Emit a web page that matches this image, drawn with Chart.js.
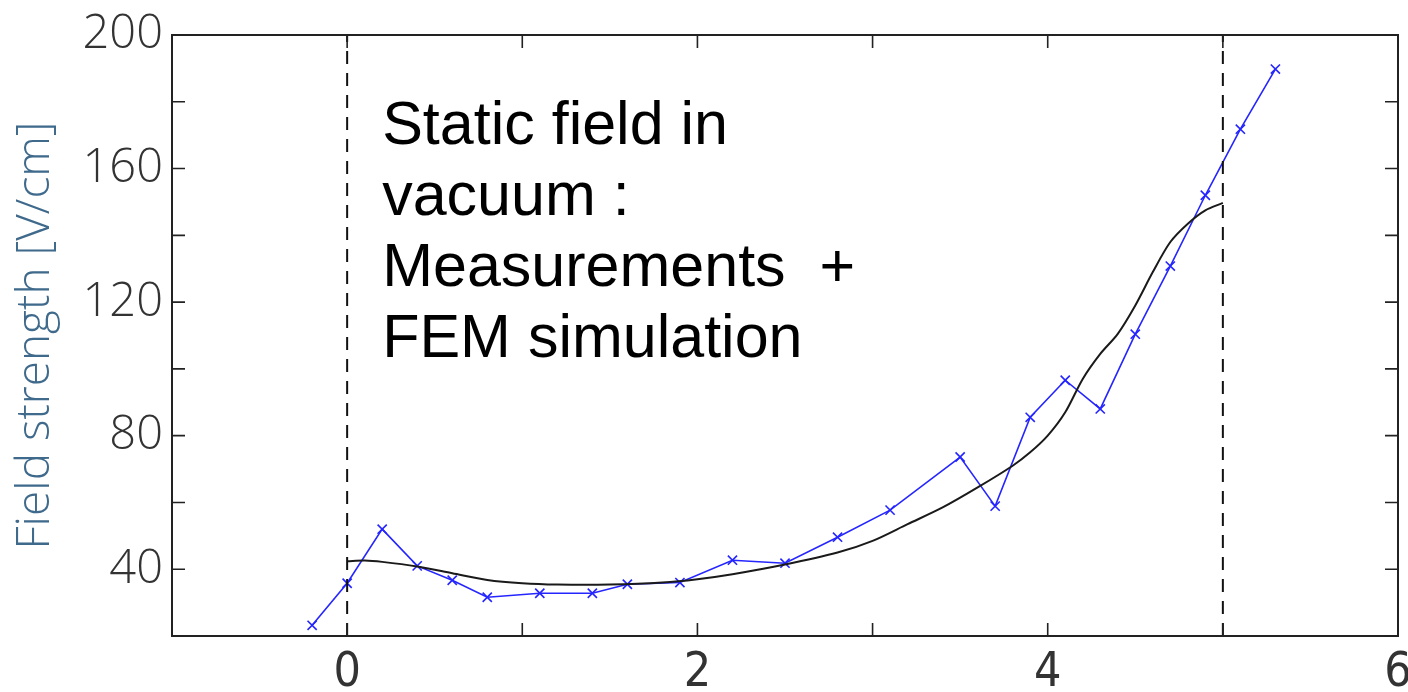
<!DOCTYPE html>
<html>
<head>
<meta charset="utf-8">
<script src="https://cdn.jsdelivr.net/npm/chart.js@4/dist/chart.umd.min.js"></script>
<style>
  html, body { margin: 0; padding: 0; background: #fff; }
  #wrap { width: 1408px; height: 692px; position: relative; }
</style>
</head>
<body>
<div id="wrap"><canvas id="c" width="1408" height="692"></canvas></div>
<script>
// Measurements (blue crosses)
const measX = [-0.2, 0, 0.2, 0.4, 0.6, 0.8, 1.1, 1.4, 1.6, 1.9, 2.2, 2.5, 2.8, 3.1, 3.5, 3.7, 3.9, 4.1, 4.3, 4.5, 4.7, 4.9, 5.1, 5.3];
const measY = [23.2, 35.8, 52, 41, 36.7, 31.6, 32.8, 32.8, 35.5, 36, 42.7, 41.8, 49.6, 57.7, 73.6, 58.9, 85.5, 96.6, 88, 110.4, 130.8, 152, 171.8, 189.8];
// FEM simulation (black curve)
const femX = [0, 0.1, 0.2, 0.4, 0.6, 0.8, 1.0, 1.2, 1.5, 1.8, 2.0, 2.2, 2.5, 2.8, 3.0, 3.2, 3.4, 3.6, 3.8, 3.9, 4.0, 4.1, 4.2, 4.3, 4.4, 4.5, 4.6, 4.7, 4.8, 4.9, 5.0];
const femY = [42.4, 42.6, 42.2, 40.8, 38.8, 36.8, 35.8, 35.4, 35.4, 36.0, 37.0, 38.5, 41.4, 45.0, 48.5, 53.5, 58.5, 64.5, 71, 75, 80, 87, 97, 104.5, 110.5, 119, 129, 138, 143.5, 147.5, 149.7];
// Dashed boundary markers
const boundaryX = [0, 5];
const yRange = [20, 200];
const xRange = [-1, 6];
const xLabelTicks = [0, 2, 4, 6];
const yLabelTicks = [40, 80, 120, 160, 200];
const annotationLines = ["Static field in", "vacuum :", "Measurements  +", "FEM simulation"];
const yTitle = "Field strength [V/cm]";

const toPts = (xs, ys) => xs.map((x, i) => ({ x: x, y: ys[i] }));

const datasets = [];
boundaryX.forEach(bx => {
  datasets.push({
    data: [{ x: bx, y: yRange[0] }, { x: bx, y: yRange[1] }],
    borderColor: '#111', borderWidth: 2, borderDash: [13, 9],
    pointRadius: 0, showLine: true, fill: false
  });
});
datasets.push({
  data: toPts(femX, femY),
  borderColor: '#1a1a1a', borderWidth: 2, pointRadius: 0, showLine: true, tension: 0.3, fill: false
});
datasets.push({
  data: toPts(measX, measY),
  borderColor: '#2525ff', backgroundColor: '#2525ff', borderWidth: 1.6,
  pointStyle: 'crossRot', pointRadius: 6.5, pointBorderWidth: 1.6,
  showLine: true, tension: 0, fill: false
});

const frame = {
  id: 'frame',
  afterDatasetsDraw(chart) {
    const ctx = chart.ctx, a = chart.chartArea;
    const xs = chart.scales.x, ys = chart.scales.y;
    ctx.save();
    ctx.strokeStyle = '#222';
    ctx.lineWidth = 2;
    ctx.strokeRect(a.left, a.top, a.right - a.left, a.bottom - a.top);
    ctx.lineWidth = 1.6;
    const tl = 13;
    ctx.beginPath();
    xs.ticks.forEach(t => {
      const px = xs.getPixelForValue(t.value);
      ctx.moveTo(px, a.bottom); ctx.lineTo(px, a.bottom - tl);
      ctx.moveTo(px, a.top); ctx.lineTo(px, a.top + tl);
    });
    ys.ticks.forEach(t => {
      const py = ys.getPixelForValue(t.value);
      ctx.moveTo(a.left, py); ctx.lineTo(a.left + tl, py);
      ctx.moveTo(a.right, py); ctx.lineTo(a.right - tl, py);
    });
    ctx.stroke();
    // annotation text
    ctx.fillStyle = '#000';
    ctx.font = '61px "Liberation Sans", Arial, sans-serif';
    ctx.textBaseline = 'alphabetic';
    ctx.textAlign = 'left';
    const tx = xs.getPixelForValue(0.2);
    annotationLines.forEach((s, i) => {
      ctx.fillText(s, tx, a.top + 109 + i * 71);
    });
    ctx.restore();
  }
};

new Chart(document.getElementById('c'), {
  type: 'scatter',
  data: { datasets },
  options: {
    responsive: false,
    animation: false,
    layout: { padding: { top: 35, right: 10, left: 0, bottom: 0 } },
    plugins: { legend: { display: false }, tooltip: { enabled: false } },
    scales: {
      x: {
        type: 'linear', min: xRange[0], max: xRange[1],
        grid: { display: false, drawTicks: false },
        border: { display: false },
        ticks: {
          stepSize: 1, padding: 9, color: '#333',
          font: { family: '"DejaVu Sans Condensed", "Liberation Sans Narrow", "Open Sans", sans-serif', size: 48, weight: 200 },
          callback: v => xLabelTicks.includes(v) ? String(v) : ''
        },
        afterFit: s => { s.height = 56; s.paddingLeft = 0; s.paddingRight = 0; }
      },
      y: {
        type: 'linear', min: yRange[0], max: yRange[1],
        grid: { display: false, drawTicks: false },
        border: { display: false },
        ticks: {
          stepSize: 20, padding: 9, color: '#333',
          font: { family: '"Open Sans", sans-serif', size: 47, weight: 300 },
          callback: v => yLabelTicks.includes(v) ? String(v) : ''
        },
        title: {
          display: true, text: yTitle, color: '#3f6a8c',
          font: { family: '"Open Sans", sans-serif', size: 46, weight: 300 },
          padding: { top: 8, bottom: 0 }
        },
        afterFit: s => { s.width = 172; s.paddingTop = 0; s.paddingBottom = 0; }
      }
    }
  },
  plugins: [frame]
});
</script>
</body>
</html>
